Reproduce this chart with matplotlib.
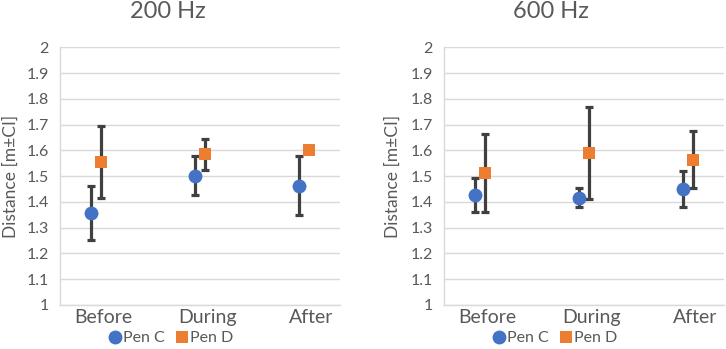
import matplotlib
matplotlib.use("Agg")
import matplotlib.pyplot as plt
import numpy as np
from matplotlib.lines import Line2D

plt.rcParams['font.family'] = ['Lato', 'DejaVu Sans']

categories = ["Before", "During", "After"]
titles = ["200 Hz", "600 Hz"]

# 200 Hz
penC_200 = [1.356, 1.501, 1.463]
penC_200_lo = [1.251, 1.427, 1.348]
penC_200_hi = [1.462, 1.577, 1.578]
penD_200 = [1.554, 1.585, 1.602]
penD_200_lo = [1.415, 1.523, 1.595]
penD_200_hi = [1.696, 1.646, 1.609]

# 600 Hz
penC_600 = [1.427, 1.417, 1.449]
penC_600_lo = [1.362, 1.382, 1.379]
penC_600_hi = [1.494, 1.453, 1.519]
penD_600 = [1.511, 1.591, 1.564]
penD_600_lo = [1.361, 1.413, 1.455]
penD_600_hi = [1.662, 1.770, 1.677]

blue = "#4472C4"
orange = "#ED7D31"
txt = "#595959"
grid = "#D9D9D9"
errc = "#404040"

fig = plt.figure(figsize=(7.26, 3.49), dpi=100)
W, H = 726, 349

def px_axes(x0, x1, ytop, ybot):
    return fig.add_axes([x0 / W, 1 - ybot / H, (x1 - x0) / W, (ybot - ytop) / H])

axes = [px_axes(60, 340, 47.3, 305), px_axes(443.7, 724.4, 47.3, 305)]
data = [
    (penC_200, penC_200_lo, penC_200_hi, penD_200, penD_200_lo, penD_200_hi),
    (penC_600, penC_600_lo, penC_600_hi, penD_600, penD_600_lo, penD_600_hi),
]
title_x = [168, 551]
ylabel_x = [11, 393]
leg_x = [169, 553]

x = np.arange(len(categories))
off = 0.05
for i, ax in enumerate(axes):
    c, clo, chi, d, dlo, dhi = data[i]
    c = np.array(c); d = np.array(d)
    cerr = [c - np.array(clo), np.array(chi) - c]
    derr = [d - np.array(dlo), np.array(dhi) - d]
    ax.errorbar(x - off, c, yerr=cerr, fmt='none', ecolor=errc, elinewidth=2.3,
                capsize=3, capthick=2.3, zorder=3)
    ax.errorbar(x + off, d, yerr=derr, fmt='none', ecolor=errc, elinewidth=2.3,
                capsize=3, capthick=2.3, zorder=3)
    ax.plot(x - off, c, 'o', color=blue, markersize=10, markeredgewidth=0, zorder=4)
    ax.plot(x + off, d, 's', color=orange, markersize=9.2, markeredgewidth=0, zorder=4)

    ax.set_xlim(-0.35, 2.35)
    ax.set_ylim(1, 2)
    yt = np.round(np.arange(1.0, 2.01, 0.1), 1)
    ax.set_yticks(yt)
    ax.set_yticklabels([("%g" % v) for v in yt], color=txt, fontsize=11.5)
    ax.set_xticks(x + 0.07)
    ax.set_xticklabels(categories, color=txt, fontsize=14)
    ax.tick_params(axis='y', length=0, pad=8)
    ax.tick_params(axis='x', length=0, pad=3)
    ax.grid(axis='y', color=grid, linewidth=1)
    ax.set_axisbelow(True)
    for s in ['top', 'right']:
        ax.spines[s].set_visible(False)
    for s in ['left', 'bottom']:
        ax.spines[s].set_color(grid)
        ax.spines[s].set_linewidth(1)
    fig.text(title_x[i] / W, 1 - 11 / H, titles[i], ha='center', va='center',
             fontsize=17, color=txt)
    fig.text(ylabel_x[i] / W, 1 - 176 / H, "Distance [m±CI]", rotation=90,
             ha='center', va='center', fontsize=12.5, color=txt)
    handles = [Line2D([], [], marker='o', color=blue, linestyle='none', markersize=10, markeredgewidth=0),
               Line2D([], [], marker='s', color=orange, linestyle='none', markersize=9.2, markeredgewidth=0)]
    fig.legend(handles, ["Pen C", "Pen D"], loc='center', ncol=2,
               bbox_to_anchor=(leg_x[i] / W, 1 - 338 / H), frameon=False,
               fontsize=11.5, labelcolor=txt, handletextpad=-0.1, columnspacing=0.5,
               handlelength=1.2, borderpad=0)

fig.savefig("out.png", dpi=100)
